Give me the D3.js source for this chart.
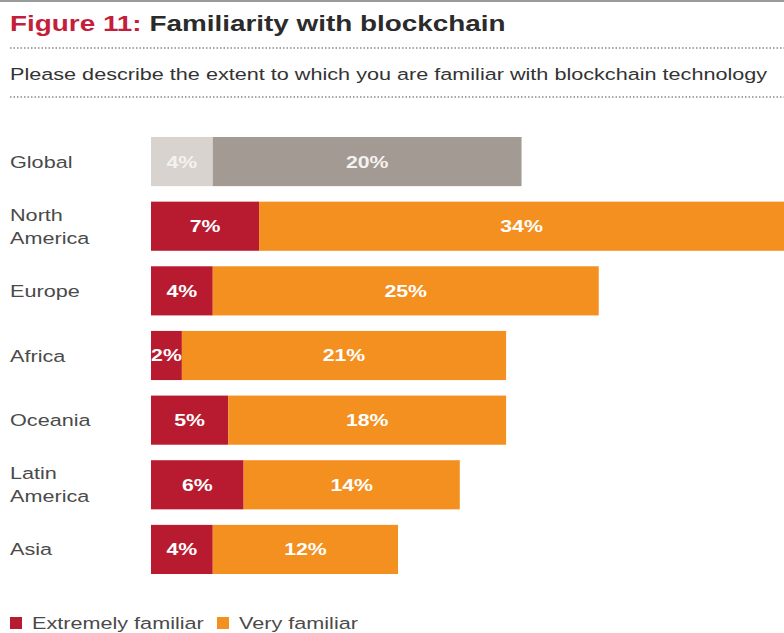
<!DOCTYPE html>
<html>
<head>
<meta charset="utf-8">
<script src="https://cdn.jsdelivr.net/npm/d3@7"></script>
<style>
  body { margin: 0; background: #fff; }
  text { font-family: "Liberation Sans", Arial, sans-serif; }
</style>
</head>
<body>
<svg id="chart" width="784" height="633"></svg>
<script>
const regions = ["Global", "North America", "Europe", "Africa", "Oceania", "Latin America", "Asia"];
const extremely = [4, 7, 4, 2, 5, 6, 4];
const very = [20, 34, 25, 21, 18, 14, 12];
const seriesNames = ["Extremely familiar", "Very familiar"];

const svg = d3.select("#chart"),
    width = +svg.attr("width");

const red = "#b81b30", orange = "#f3901f";
const greyLight = "#d8d3ce", greyDark = "#a39a93";
// the source type is set wide, so every text gets stretched sideways
const sx = 1.25;

function placeText(sel, x, y) {
    return sel.attr("transform", `translate(${x},${y}) scale(${sx},1)`);
}

// rule at very top
svg.append("line")
    .attr("x1", 0).attr("x2", width)
    .attr("y1", 1).attr("y2", 1)
    .attr("stroke", "#9a9a9a").attr("stroke-width", 2);

const title = svg.append("text")
    .style("font-size", "22.3px")
    .style("font-weight", "bold");
placeText(title, 10, 31);
title.append("tspan").attr("fill", "#c41e3a").text("Figure 11: ");
title.append("tspan").attr("fill", "#2b2b2b").text("Familiarity with blockchain");

[48, 97].forEach(y => {
    svg.append("line")
        .attr("x1", 10).attr("x2", width)
        .attr("y1", y).attr("y2", y)
        .attr("stroke", "#8a8a8a")
        .attr("stroke-width", 1.5)
        .attr("stroke-dasharray", "1.5,2");
});

placeText(svg.append("text"), 10, 80)
    .attr("fill", "#333")
    .style("font-size", "17.3px")
    .text("Please describe the extent to which you are familiar with blockchain technology");

const data = regions.map((r, i) => ({region: r, extremely: extremely[i], very: very[i]}));

const x = d3.scaleLinear()
    .domain([0, 41])
    .range([151, 784]);

const y = d3.scaleBand()
    .domain(regions)
    .range([137, 574])
    .paddingInner(0.24)
    .paddingOuter(0);

const stacked = d3.stack().keys(["extremely", "very"])(data);

function fillFor(key, region) {
    if (region === "Global") return key === "extremely" ? greyLight : greyDark;
    return key === "extremely" ? red : orange;
}

const layers = svg.selectAll("g.layer")
    .data(stacked)
    .enter()
    .append("g")
    .attr("class", "layer");

layers.selectAll("rect")
    .data(d => d.map(v => ({key: d.key, v: v})))
    .enter()
    .append("rect")
    .attr("x", d => x(d.v[0]))
    .attr("y", d => y(d.v.data.region))
    .attr("width", d => x(d.v[1]) - x(d.v[0]))
    .attr("height", y.bandwidth())
    .attr("fill", d => fillFor(d.key, d.v.data.region));

layers.selectAll("text")
    .data(d => d.map(v => ({key: d.key, v: v})))
    .enter()
    .append("text")
    .attr("transform", d => `translate(${(x(d.v[0]) + x(d.v[1])) / 2},${y(d.v.data.region) + y.bandwidth() / 2}) scale(${sx},1)`)
    .attr("dy", "0.35em")
    .attr("text-anchor", "middle")
    .attr("fill", d => d.v.data.region === "Global" ? "#f4f2f0" : "#fff")
    .style("font-size", "17px")
    .style("font-weight", "bold")
    .text(d => (d.v[1] - d.v[0]) + "%");

// category labels
svg.selectAll("text.cat")
    .data(regions)
    .enter()
    .append("text")
    .attr("class", "cat")
    .attr("fill", "#4a4a4a")
    .style("font-size", "17.3px")
    .each(function(d) {
        const parts = d.split(" ");
        const cy = y(d) + y.bandwidth() / 2;
        const t = d3.select(this);
        placeText(t, 10, cy);
        if (parts.length === 1) {
            t.attr("dy", "0.35em").text(d);
        } else {
            parts.forEach((p, i) => {
                t.append("tspan")
                    .attr("x", 0)
                    .attr("y", i === 0 ? -11.5 : 11.5)
                    .attr("dy", "0.35em")
                    .text(p);
            });
        }
    });

// legend
const legend = svg.append("g");
const legendX = [10, 217];
seriesNames.forEach((name, i) => {
    legend.append("rect")
        .attr("x", legendX[i]).attr("y", 617)
        .attr("width", 12).attr("height", 12)
        .attr("fill", i === 0 ? red : orange);
    placeText(legend.append("text"), legendX[i] + 22, 623)
        .attr("dy", "0.35em")
        .attr("fill", "#4a4a4a")
        .style("font-size", "17.3px")
        .text(name);
});
</script>
</body>
</html>
